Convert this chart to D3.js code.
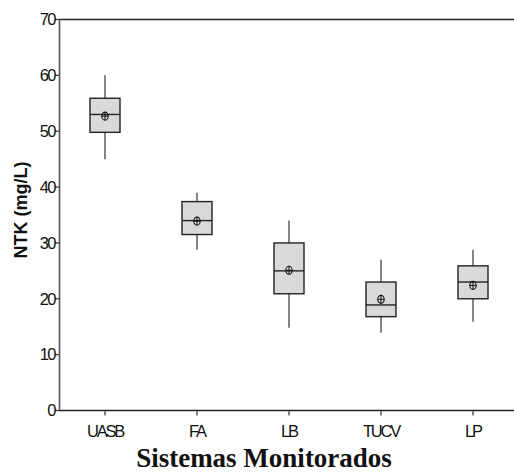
<!DOCTYPE html>
<html><head><meta charset="utf-8">
<script src="https://cdn.jsdelivr.net/npm/d3@7"></script>
<style>body{margin:0;background:#fff}svg{display:block}</style>
</head><body>
<script>
const categories = ["UASB","FA","LB","TUCV","LP"];
const whiskerLow  = [45, 28.8, 14.8, 13.9, 15.9];
const q1          = [49.8, 31.5, 20.9, 16.8, 20.0];
const medians     = [53.0, 34.0, 25.0, 18.9, 23.0];
const q3          = [55.9, 37.4, 30.0, 23.0, 25.9];
const whiskerHigh = [60, 39.0, 34.0, 27.0, 28.8];
const means       = [52.7, 33.9, 25.1, 19.9, 22.4];
const yTicks = [0,10,20,30,40,50,60,70];

const W = 514, H = 472;
const svg = d3.select("body").append("svg").attr("width", W).attr("height", H);
const x = d3.scaleBand().domain(categories).range([59, 519]);
const y = d3.scaleLinear().domain([0,70]).range([410.5, 19.5]);
const cx = c => x(c) + x.bandwidth()/2;
const bw = 30;

// frame lines
svg.append("line").attr("x1",59).attr("x2",W).attr("y1",y(70)).attr("y2",y(70)).attr("stroke","#222").attr("stroke-width",1.6);
svg.append("line").attr("x1",59).attr("x2",W).attr("y1",y(0)).attr("y2",y(0)).attr("stroke","#222").attr("stroke-width",1.6);
svg.append("line").attr("x1",59.5).attr("x2",59.5).attr("y1",y(70)).attr("y2",y(0)).attr("stroke","#555").attr("stroke-width",1.6);

// y ticks
const yt = svg.append("g");
yTicks.forEach(t => {
  yt.append("line").attr("x1",55).attr("x2",59).attr("y1",y(t)).attr("y2",y(t)).attr("stroke","#333").attr("stroke-width",1.2);
  yt.append("text").attr("x",55).attr("y",y(t)+5.8).attr("text-anchor","end")
    .attr("font-family","Liberation Sans, Arial, sans-serif").attr("font-size",16.5).attr("letter-spacing","-1.5px")
    .attr("fill","#111").text(t);
});
// x ticks
categories.forEach(c => {
  svg.append("line").attr("x1",cx(c)).attr("x2",cx(c)).attr("y1",y(0)).attr("y2",y(0)+5).attr("stroke","#333").attr("stroke-width",1.2);
  svg.append("text").attr("x",cx(c)).attr("y",437).attr("text-anchor","middle")
    .attr("font-family","Liberation Sans, Arial, sans-serif").attr("font-size",16.5).attr("letter-spacing","-2.2px")
    .attr("fill","#111").text(c);
});

// boxes
categories.forEach((c,i) => {
  const g = svg.append("g");
  const X = cx(c);
  g.append("line").attr("x1",X).attr("x2",X).attr("y1",y(whiskerHigh[i])).attr("y2",y(q3[i])).attr("stroke","#444").attr("stroke-width",1.3);
  g.append("line").attr("x1",X).attr("x2",X).attr("y1",y(q1[i])).attr("y2",y(whiskerLow[i])).attr("stroke","#444").attr("stroke-width",1.3);
  g.append("rect").attr("x",X-bw/2).attr("y",y(q3[i])).attr("width",bw).attr("height",y(q1[i])-y(q3[i]))
    .attr("fill","#d9d9d9").attr("stroke","#222").attr("stroke-width",1.4);
  g.append("line").attr("x1",X-bw/2).attr("x2",X+bw/2).attr("y1",y(medians[i])).attr("y2",y(medians[i])).attr("stroke","#222").attr("stroke-width",1.4);
  const my = y(means[i]);
  g.append("ellipse").attr("cx",X).attr("cy",my).attr("rx",3.2).attr("ry",4).attr("fill","none").attr("stroke","#111").attr("stroke-width",1.1);
  g.append("line").attr("x1",X).attr("x2",X).attr("y1",my-4).attr("y2",my+4).attr("stroke","#111").attr("stroke-width",1);
  g.append("line").attr("x1",X-3.2).attr("x2",X+3.2).attr("y1",my).attr("y2",my).attr("stroke","#111").attr("stroke-width",1);
});

// axis titles
svg.append("text").attr("transform","translate(27,210) rotate(-90)").attr("text-anchor","middle")
  .attr("font-family","Liberation Sans, Arial, sans-serif").attr("font-weight","bold").attr("font-size",18)
  .attr("fill","#111").text("NTK (mg/L)");
svg.append("text").attr("x",264).attr("y",467).attr("text-anchor","middle")
  .attr("font-family","Liberation Serif, Times New Roman, serif").attr("font-weight","bold").attr("font-size",27)
  .attr("fill","#111").text("Sistemas Monitorados");
</script>
</body></html>
